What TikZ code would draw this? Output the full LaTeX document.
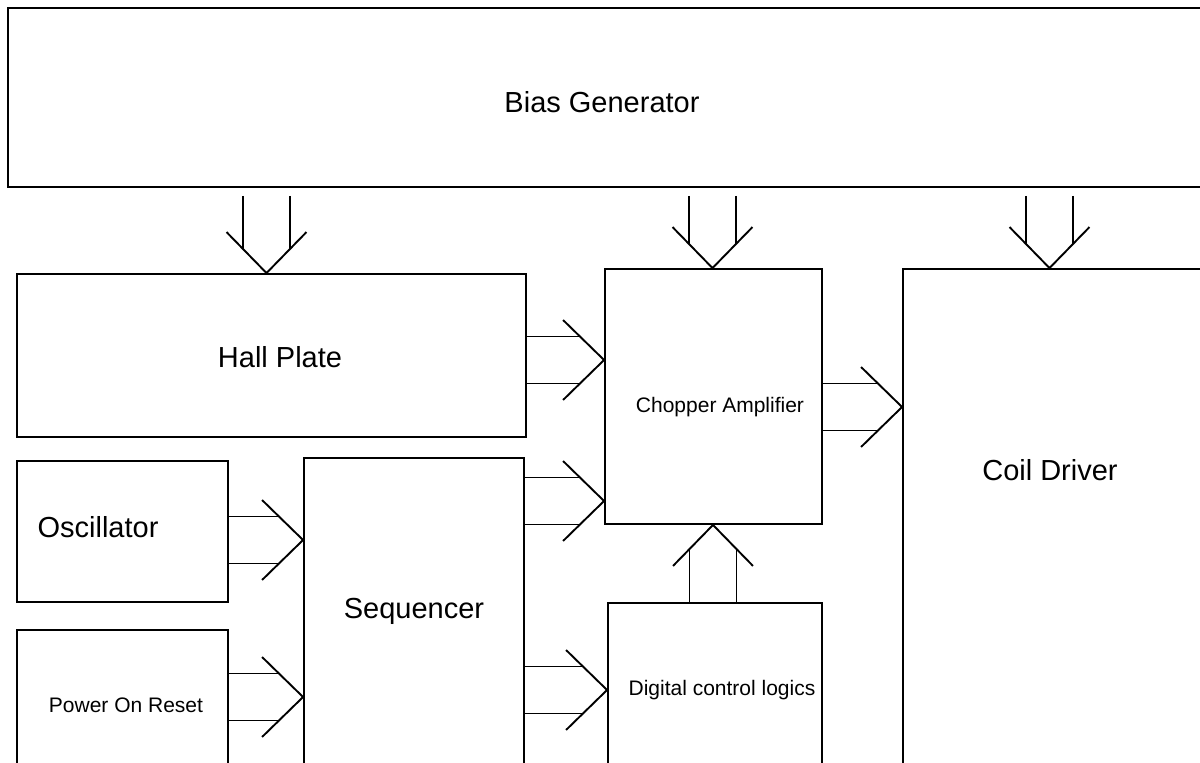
\documentclass[tikz,border=0pt]{standalone}
\usepackage{fontspec}
\setmainfont{Liberation Sans}
\usetikzlibrary{calc}

% wide bus arrow: two shafts and an open head, #1 tail, #2 tip
\newcommand\busarrow[2]{%
  \draw[bus] ($(#1)!23.5pt!90:(#2)$) -- ($(#2)!24pt!(#1)!23.5pt!-90:(#1)$);
  \draw[bus] ($(#1)!23.5pt!-90:(#2)$) -- ($(#2)!24pt!(#1)!23.5pt!90:(#1)$);
  \draw[bus] ($(#2)!41pt!(#1)!40pt!90:(#1)$) -- (#2) -- ($(#2)!41pt!(#1)!40pt!-90:(#1)$);
}

\begin{document}
\begin{tikzpicture}[x=1pt,y=-1pt,
    box/.style={draw,line width=1.9pt,inner sep=0pt},
    big/.style={font=\fontsize{29}{35}\selectfont},
    small/.style={font=\fontsize{21}{25}\selectfont},
    bus/.style={line width=1.9pt}]
  \useasboundingbox (0,0) rectangle (1200,763);
  \clip (0,0) rectangle (1200,763);
  % blocks
  \node[box,minimum width=1204,minimum height=179,
    label={[big,xshift=-8pt,yshift=-4.5pt]center:Bias Generator}] (bias) at (610,97.5) {};
  \node[box,minimum width=509,minimum height=163,
    label={[big,xshift=8.5pt,yshift=-1.5pt]center:Hall Plate}] (hall) at (271.5,355.5) {};
  \node[box,minimum width=211,minimum height=141,
    label={[big,xshift=-24.5pt,yshift=4.5pt]center:Oscillator}] (osc) at (122.5,531.5) {};
  \node[box,minimum width=211,minimum height=170,
    label={[small,xshift=3.5pt,yshift=10pt]center:Power On Reset}] (por) at (122.5,715) {};
  \node[box,minimum width=220,minimum height=342,
    label={[big,yshift=18pt]center:Sequencer}] (seq) at (414,629) {};
  \node[box,minimum width=217,minimum height=255,
    label={[small,xshift=6.5pt,yshift=-10.5pt]center:Chopper Amplifier}] (chop) at (713.5,396.5) {};
  \node[box,minimum width=214,minimum height=197,
    label={[small,xshift=7pt,yshift=11.5pt]center:Digital control logics}] (dig) at (715,701.5) {};
  \node[box,minimum width=310,minimum height=531,
    label={[big,xshift=-8pt,yshift=64.5pt]center:Coil Driver}] (coil) at (1058,534.5) {};
  % bus tails
  \coordinate (bias1) at ($(266.5,0 |- bias.south)+(0,8)$);
  \coordinate (bias2) at ($(712.5,0 |- bias.south)+(0,8)$);
  \coordinate (bias3) at ($(1049.5,0 |- bias.south)+(0,8)$);
  \coordinate (hallout) at ($(hall.east)+(0,4.5)$);
  \coordinate (seqout1) at (seq.east |- 0,501);
  \coordinate (seqout2) at (seq.east |- 0,690);
  \coordinate (chopout) at (chop.east |- 0,407);
  \coordinate (oscout) at (osc.east |- 0,540);
  \coordinate (porout) at (por.east |- 0,697);
  \coordinate (digout) at (713,0 |- dig.north);
  % buses
  \busarrow{bias1}{bias1 |- hall.north}
  \busarrow{bias2}{bias2 |- chop.north}
  \busarrow{bias3}{bias3 |- coil.north}
  \busarrow{hallout}{hallout -| chop.west}
  \busarrow{seqout1}{seqout1 -| chop.west}
  \busarrow{chopout}{chopout -| coil.west}
  \busarrow{oscout}{oscout -| seq.west}
  \busarrow{porout}{porout -| seq.west}
  \busarrow{seqout2}{seqout2 -| dig.west}
  \busarrow{digout}{digout |- chop.south}
\end{tikzpicture}
\end{document}
